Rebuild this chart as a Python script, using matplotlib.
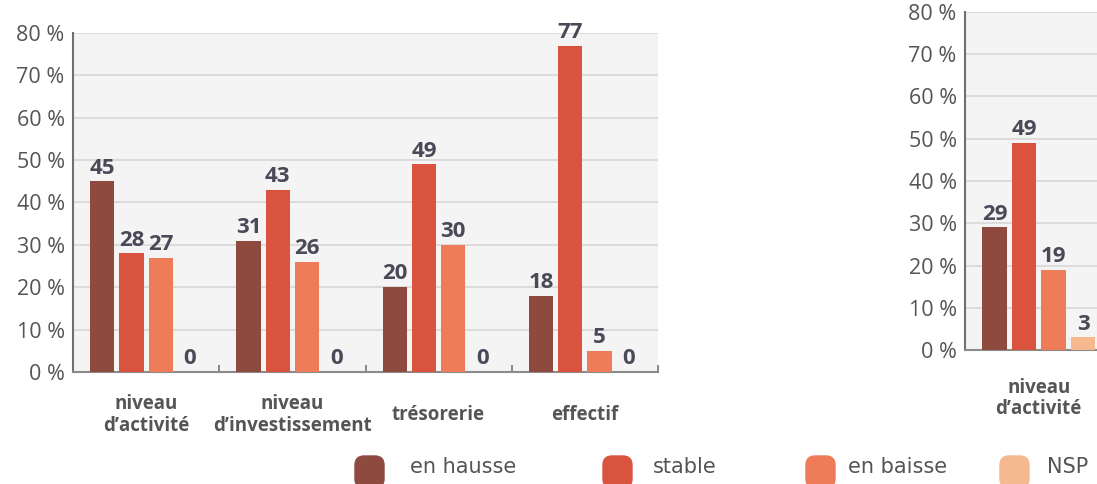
import numpy as np
import matplotlib
matplotlib.use("Agg")
import matplotlib.pyplot as plt
from matplotlib.patches import FancyBboxPatch

plt.rcParams['font.family'] = ['Open Sans', 'DejaVu Sans']

# data
series = ["en hausse", "stable", "en baisse", "NSP"]
colors = ["#8e4a3e", "#d9533f", "#ef7c58", "#f6b88f"]

categories_left = ["niveau\nd’activité", "niveau\nd’investissement", "trésorerie", "effectif"]
en_hausse_left = [45, 31, 20, 18]
stable_left = [28, 43, 49, 77]
en_baisse_left = [27, 26, 30, 5]
nsp_left = [0, 0, 0, 0]

categories_right = ["niveau\nd’activité"]
en_hausse_right = [29]
stable_right = [49]
en_baisse_right = [19]
nsp_right = [3]

yticks = [0, 10, 20, 30, 40, 50, 60, 70, 80]
ytick_labels = ["0 %", "10 %", "20 %", "30 %", "40 %", "50 %", "60 %", "70 %", "80 %"]

TXT = "#555555"
VAL = "#4a4958"


def draw_panel(ax, cats, values, n_slots, label_pad, boundary_ticks=True):
    x = np.arange(len(cats))
    step = 0.2
    width = 0.167
    for i, (vals, col) in enumerate(zip(values, colors)):
        pos = x + (i - 1.5) * step
        bars = ax.bar(pos, vals, width=width, color=col, zorder=3)
        for b, v in zip(bars, vals):
            ax.annotate(str(v), (b.get_x() + b.get_width() / 2, v),
                        xytext=(0, 2), textcoords="offset points",
                        ha="center", va="bottom", fontsize=16,
                        fontweight="bold", color=VAL, zorder=4)
    ax.set_facecolor("#f4f4f4")
    ax.set_xlim(-0.5, n_slots - 0.5)
    ax.set_ylim(0, 80)
    ax.set_yticks(yticks, ytick_labels)
    ax.yaxis.grid(True, color="#d6d6d6", lw=1.2, zorder=0)
    ax.set_axisbelow(True)
    ax.tick_params(axis="y", length=0, pad=6, labelsize=15.5, labelcolor=TXT)
    ax.set_xticks(x, cats)
    for lbl in ax.get_xticklabels():
        lbl.set_verticalalignment("center")
        lbl.set_fontweight("bold")
        lbl.set_linespacing(1.1)
    ax.tick_params(axis="x", which="major", length=0, pad=label_pad,
                   labelsize=13.5, labelcolor=TXT)
    if boundary_ticks:
        ax.set_xticks(np.arange(0.5, len(cats)), minor=True)
        ax.tick_params(axis="x", which="minor", direction="in", length=5,
                       width=1.2, color="#777777")
    for s in ["top", "right"]:
        ax.spines[s].set_visible(False)
    ax.spines["left"].set_color("#6f6f6f")
    ax.spines["left"].set_linewidth(1.5)
    ax.spines["bottom"].set_color("#8a8a8a")
    ax.spines["bottom"].set_linewidth(1.5)


fig = plt.figure(figsize=(10.97, 4.84), dpi=100)
W, H = 1097, 484

ax1 = fig.add_axes([73 / W, (H - 372) / H, 585 / W, 339 / H])
draw_panel(ax1, categories_left,
           [en_hausse_left, stable_left, en_baisse_left, nsp_left], 4, 31)

ax2 = fig.add_axes([965 / W, (H - 350) / H, 590 / W, 338 / H])
draw_panel(ax2, categories_right,
           [en_hausse_right, stable_right, en_baisse_right, nsp_right], 4, 35,
           boundary_ticks=False)

# legend along the bottom edge
marker_x = [355, 603, 806, 1000]
text_x = [410, 653, 848, 1047]
for lab, col, mx, tx in zip(series, colors, marker_x, text_x):
    patch = FancyBboxPatch((mx / 100, -0.04), 0.29, 0.32,
                           boxstyle="round,pad=0,rounding_size=0.09",
                           transform=fig.dpi_scale_trans, color=col,
                           clip_on=False)
    fig.patches.append(patch)
    fig.text(tx / W, (H - 467) / H, lab, family="DejaVu Sans", fontsize=15,
             color=TXT, va="center", ha="left")

fig.savefig("out.png", dpi=100)
